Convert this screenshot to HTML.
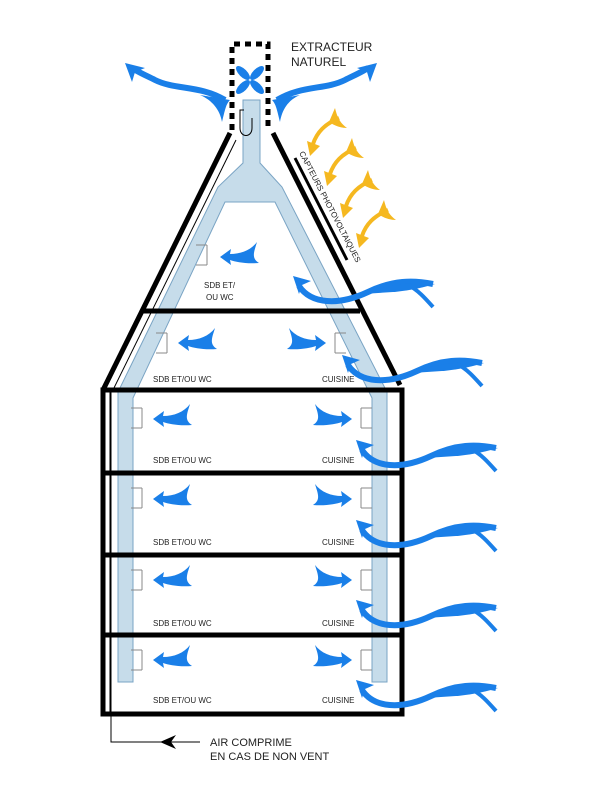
<!DOCTYPE html>
<html><head><meta charset="utf-8"><style>
html,body{margin:0;padding:0;background:#fff}
svg{display:block}
text{font-family:"Liberation Sans",Arial,sans-serif;fill:#222}
</style></head><body>
<svg width="600" height="800" viewBox="0 0 600 800" xmlns="http://www.w3.org/2000/svg">
<defs>
<path id="la" d="M0,0 L11,-8 L10,-3 C21,-3 31,-7 37,-15 C34,-5 31,1 39,6 C26,7 16,5 10,3 L11,8 Z" fill="#1a7fe8"/>
<g id="wind">
<path d="M6,10 C18,28 45,30 75,16 C100,4 120,4 140,8" fill="none" stroke="#1a7fe8" stroke-width="6"/>
<path d="M70,18 C95,8 118,6 142,8 C125,13 112,15 100,16 Z" fill="#1a7fe8"/>
<path d="M115,9 C125,14 132,22 140,31" fill="none" stroke="#1a7fe8" stroke-width="4"/>
<polygon points="0,0 18,5 9,9 6,18" fill="#1a7fe8"/>
</g>
<g id="sun">
<path d="M0,-4 C4,-16 12,-24 26,-30" fill="none" stroke="#f5b820" stroke-width="4"/>
<path d="M16,-26 C22,-22 28,-20 34,-20 C26,-26 24,-32 22,-40 Z" fill="#f5b820"/>
<polygon points="-3,8 -6,-7 7,-2" fill="#f5b820"/>
</g>
<g id="vl"><path d="M0,-10 H11 M0,10 H11 M11,-10 V10" fill="none" stroke="#888" stroke-width="1"/></g>
<g id="vr"><path d="M0,-10 H-11 M0,10 H-11 M-11,-10 V10" fill="none" stroke="#888" stroke-width="1"/></g>
</defs>

<path d="M243,100 H260 V163 L282,187 L387,392 V682 H372 V398 L275,202 H225 L133,398 V682 H118 V392 L218,187 L243,163 Z" fill="#c6dcea" stroke="#7aa4c4" stroke-width="1"/>

<g stroke="#000" stroke-width="5" fill="none">
<path d="M230,133 L103,390"/>
<path d="M273,133 L400,385"/>
<path d="M103,390 H402 V714 H103 Z"/>
<path d="M103,473 H402 M103,555 H402 M103,635 H402"/>
<path d="M143,311 H360"/>
</g>
<path d="M236,140 L112,392" stroke="#000" stroke-width="1" fill="none"/>
<path d="M111,392 V742 H200" stroke="#000" stroke-width="1" fill="none"/>
<path d="M110,390 V712" stroke="#000" stroke-width="1"/>
<polygon points="160,742 176,735 171,742 176,749" fill="#000"/>
<path d="M232,130 V44 H268 V130" fill="none" stroke="#000" stroke-width="5" stroke-dasharray="6,5"/>
<path d="M244,110 H240 V128 C240,138 252,138 252,128 V118" fill="none" stroke="#000" stroke-width="1"/>
<g fill="#1a7fe8" transform="translate(250,80)">
<ellipse cx="-7" cy="-7" rx="9" ry="4" transform="rotate(45 -7 -7)"/>
<ellipse cx="7" cy="-7" rx="9" ry="4" transform="rotate(-45 7 -7)"/>
<ellipse cx="-7" cy="7" rx="9" ry="4" transform="rotate(-45 -7 7)"/>
<ellipse cx="7" cy="7" rx="9" ry="4" transform="rotate(45 7 7)"/>
</g>
<path d="M225,100 C200,85 175,90 155,80 C145,75 138,72 132,68" fill="none" stroke="#1a7fe8" stroke-width="6"/>
<path d="M200,95 C212,100 220,110 222,122 C225,110 226,104 230,100 Z" fill="#1a7fe8"/>
<polygon points="125,63 145,68 135,72 132,82" fill="#1a7fe8"/>
<path d="M277,100 C302,85 325,90 345,80 C355,75 362,72 368,68" fill="none" stroke="#1a7fe8" stroke-width="6"/>
<path d="M300,95 C288,100 282,110 280,122 C277,110 276,104 272,100 Z" fill="#1a7fe8"/>
<polygon points="377,63 357,68 367,72 370,82" fill="#1a7fe8"/>

<path d="M295,158 L347,260" stroke="#000" stroke-width="3"/>
<text x="0" y="0" font-size="8" transform="translate(299,153) rotate(62.5)">CAPTEURS PHOTOVOLTAIQUES</text>
<use href="#sun" x="313" y="148"/>
<use href="#sun" x="330" y="178"/>
<use href="#sun" x="346" y="210"/>
<use href="#sun" x="362" y="240"/>

<text x="291" y="51" font-size="12">EXTRACTEUR</text>
<text x="291" y="66" font-size="12">NATUREL</text>
<text x="204" y="288" font-size="8">SDB ET/</text>
<text x="206" y="300" font-size="8">OU WC</text>
<g font-size="8">
<text x="153" y="382">SDB ET/OU WC</text><text x="322" y="382">CUISINE</text>
<text x="153" y="463">SDB ET/OU WC</text><text x="322" y="463">CUISINE</text>
<text x="153" y="545">SDB ET/OU WC</text><text x="322" y="545">CUISINE</text>
<text x="153" y="626">SDB ET/OU WC</text><text x="322" y="626">CUISINE</text>
<text x="153" y="703">SDB ET/OU WC</text><text x="322" y="703">CUISINE</text>
</g>
<text x="210" y="746" font-size="11">AIR COMPRIME</text>
<text x="210" y="760" font-size="11">EN CAS DE NON VENT</text>

<use href="#vl" x="196" y="255"/>
<use href="#vl" x="156" y="343"/><use href="#vr" x="346" y="343"/>
<use href="#vl" x="131" y="418"/><use href="#vr" x="372" y="418"/>
<use href="#vl" x="131" y="498"/><use href="#vr" x="372" y="498"/>
<use href="#vl" x="131" y="580"/><use href="#vr" x="372" y="580"/>
<use href="#vl" x="131" y="660"/><use href="#vr" x="372" y="660"/>

<use href="#la" x="220" y="257"/>
<use href="#la" x="178" y="343"/>
<use href="#la" transform="translate(326,343) scale(-1,1)"/>
<use href="#la" x="153" y="419"/>
<use href="#la" transform="translate(352,419) scale(-1,1)"/>
<use href="#la" x="153" y="499"/>
<use href="#la" transform="translate(352,499) scale(-1,1)"/>
<use href="#la" x="153" y="580"/>
<use href="#la" transform="translate(352,580) scale(-1,1)"/>
<use href="#la" x="153" y="660"/>
<use href="#la" transform="translate(352,660) scale(-1,1)"/>

<use href="#wind" x="293" y="276"/>
<use href="#wind" x="342" y="355"/>
<use href="#wind" x="356" y="440"/>
<use href="#wind" x="356" y="520"/>
<use href="#wind" x="356" y="600"/>
<use href="#wind" x="356" y="680"/>
</svg>
</body></html>
